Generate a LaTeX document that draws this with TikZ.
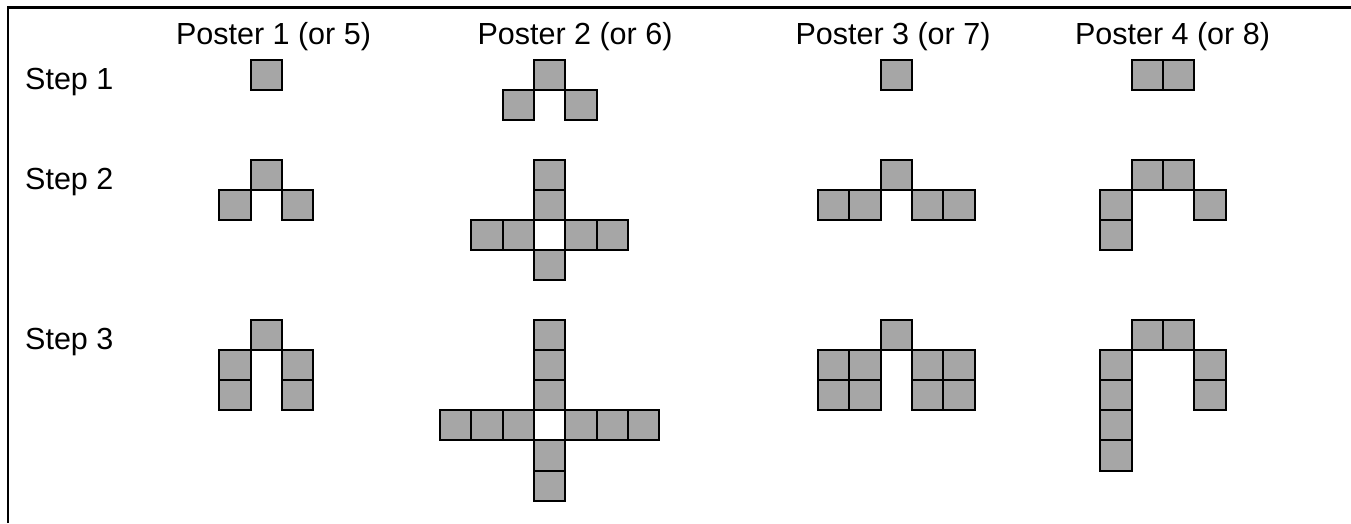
\documentclass[tikz,border=0pt]{standalone}
\usepackage{fontspec}
\setmainfont{Liberation Sans}
\usetikzlibrary{positioning}
\definecolor{cellgray}{RGB}{166,166,166}
\newcommand{\cw}{31.33}
\newcommand{\ch}{30.1}
% one figure: prefix, left edge, top edge, list of col/row
\newcommand{\placecells}[4]{%
  \begin{scope}[shift={(#2,#3)}]
    \foreach \c/\r in {#4}
      \node[cell] (#1-\c-\r) at ({\c*\cw},{\r*\ch}) {};
  \end{scope}}

\begin{document}
\begin{tikzpicture}[
  x=1pt, y=-1pt,
  cell/.style={rectangle, draw, line width=2pt, fill=cellgray, inner sep=0pt,
               outer sep=0pt, minimum width=\cw pt, minimum height=\ch pt,
               anchor=north west},
  head/.style={font=\fontsize{30.5}{36}\selectfont, inner sep=0pt, anchor=base},
  rowlbl/.style={head, anchor=base west}
]
\useasboundingbox (0,0) rectangle (1351,523);
\draw[line width=2.5pt] (8,523) -- (8,7.5) -- (1351,7.5);

\node[head]   (poster1) at (273.5,44.3) {Poster 1 (or 5)};
\node[head]   (poster2) at (575,44.3)   {Poster 2 (or 6)};
\node[head]   (poster3) at (893,44.3)   {Poster 3 (or 7)};
\node[head]   (poster4) at (1172.5,44.3){Poster 4 (or 8)};
\node[rowlbl] (step1)   at (25,89.3)    {Step 1};
\node[rowlbl] (step2)   at (25,189.3)   {Step 2};
\node[rowlbl] (step3)   at (25,349.3)   {Step 3};

% poster 1
\placecells{pa1}{250.7}{60}{0/0}
\placecells{pa2}{250.7}{160}{0/0,-1/1,1/1}
\placecells{pa3}{250.7}{320}{0/0,-1/1,1/1,-1/2,1/2}
% poster 2
\placecells{pb1}{534}{60}{0/0,-1/1,1/1}
\placecells{pb2}{534}{160}{0/0,0/1,-2/2,-1/2,1/2,2/2,0/3}
\placecells{pb3}{534}{320}{0/0,0/1,0/2,-3/3,-2/3,-1/3,1/3,2/3,3/3,0/4,0/5}
% poster 3
\placecells{pc1}{880.7}{60}{0/0}
\placecells{pc2}{880.7}{160}{0/0,-2/1,-1/1,1/1,2/1}
\placecells{pc3}{880.7}{320}{0/0,-2/1,-1/1,1/1,2/1,-2/2,-1/2,1/2,2/2}
% poster 4
\placecells{pd1}{1131.7}{60}{0/0,1/0}
\placecells{pd2}{1131.7}{160}{0/0,1/0,-1/1,-1/2,2/1}
\placecells{pd3}{1131.7}{320}{0/0,1/0,-1/1,-1/2,-1/3,-1/4,2/1,2/2}
\end{tikzpicture}
\end{document}
